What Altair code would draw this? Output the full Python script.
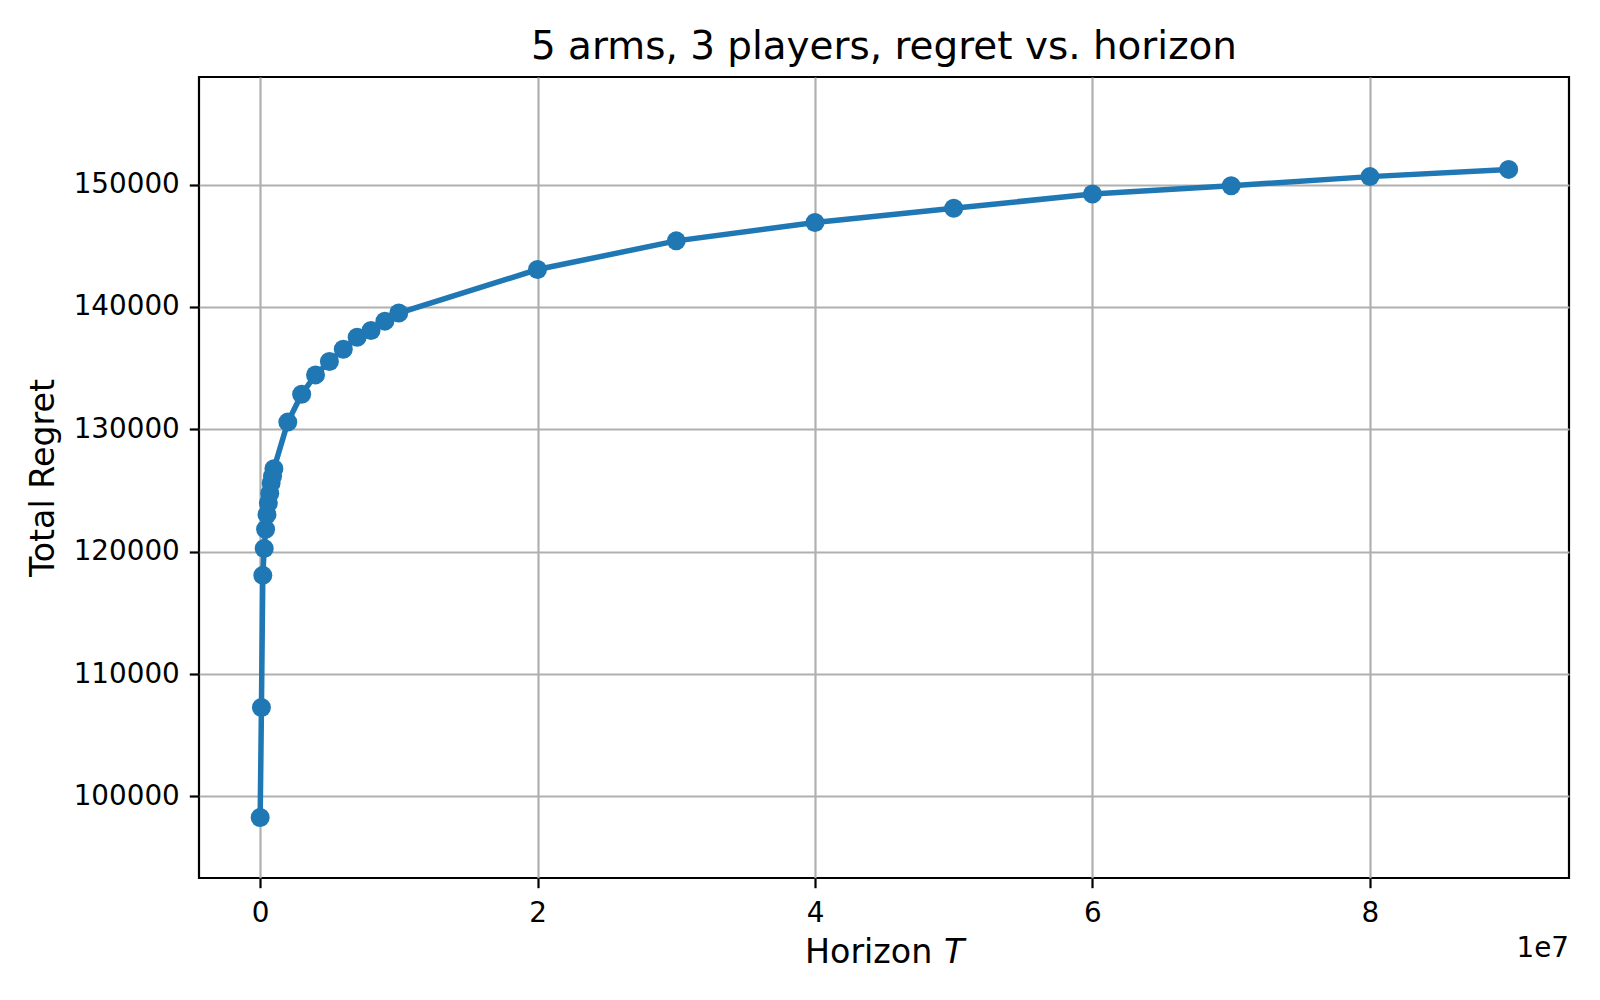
import altair as alt
import pandas as pd

horizon = [1e4, 1e5, 2e5, 3e5, 4e5, 5e5, 6e5, 7e5, 8e5, 9e5, 1e6,
           2e6, 3e6, 4e6, 5e6, 6e6, 7e6, 8e6, 9e6, 1e7,
           2e7, 3e7, 4e7, 5e7, 6e7, 7e7, 8e7, 9e7]
regret = [98280, 107270, 118070, 120260, 121840, 123030, 123980, 124770, 125620, 126170, 126790,
          130590, 132870, 134450, 135550, 136540, 137520, 138080, 138840, 139500,
          143060, 145400, 146900, 148060, 149230, 149900, 150650, 151240]

x_ticks = [0, 2e7, 4e7, 6e7, 8e7]
y_ticks = [100000, 110000, 120000, 130000, 140000, 150000]

df = pd.DataFrame({"T": horizon, "regret": regret})

FONT = "DejaVu Sans"
BLUE = "#1f77b4"
W, H = 1370, 801

xscale = alt.Scale(domain=[-4.40e6, 9.435e7], nice=False, zero=False)
yscale = alt.Scale(domain=[93340, 158790], nice=False, zero=False)

xaxis = alt.Axis(values=x_ticks, labelExpr="format(datum.value / 1e7, 'd')", title=None,
                 grid=True, gridColor="#b0b0b0", gridWidth=2.2, domain=False,
                 tickColor="black", tickWidth=2.2, tickSize=9.7,
                 labelFont=FONT, labelFontSize=27.8, labelColor="black", labelPadding=12)
yaxis = alt.Axis(values=y_ticks, format="d", title="Total Regret",
                 grid=True, gridColor="#b0b0b0", gridWidth=2.2, domain=False,
                 tickColor="black", tickWidth=2.2, tickSize=9.7,
                 labelFont=FONT, labelFontSize=27.8, labelColor="black", labelPadding=10,
                 titleFont=FONT, titleFontSize=33.3, titleFontWeight="normal",
                 titleColor="black", titlePadding=13)

base = alt.Chart(df).encode(
    x=alt.X("T:Q", scale=xscale, axis=xaxis),
    y=alt.Y("regret:Q", scale=yscale, axis=yaxis),
)
line = base.mark_line(color=BLUE, strokeWidth=5.5)
pts = base.mark_point(filled=True, shape="circle", size=361, color=BLUE, opacity=1)

one = pd.DataFrame({"a": [0]})
title = alt.Chart(one).mark_text(text="5 arms, 3 players, regret vs. horizon", font=FONT,
                                 fontSize=38.9, align="center", baseline="alphabetic",
                                 color="black").encode(
    x=alt.value(W / 2), y=alt.value(-18))
lab1 = alt.Chart(one).mark_text(text="Horizon", font=FONT, fontSize=33.3, align="left",
                                baseline="alphabetic", color="black").encode(
    x=alt.value(606), y=alt.value(886))
lab2 = alt.Chart(one).mark_text(text="T", font=FONT, fontSize=33.3, fontStyle="italic",
                                align="left", baseline="alphabetic", color="black").encode(
    x=alt.value(745), y=alt.value(886))
offs = alt.Chart(one).mark_text(text="1e7", font=FONT, fontSize=27.8, align="right",
                                baseline="alphabetic", color="black").encode(
    x=alt.value(W), y=alt.value(880))

chart = alt.layer(line, pts, title, lab1, lab2, offs).properties(
    width=W, height=H,
    background="white",
    autosize=alt.AutoSizeParams(type="none"),
    padding={"left": 191, "top": 69, "right": 23, "bottom": 110},
).configure_view(stroke="black", strokeWidth=2.2)

chart.save("out.html", embed_options={"renderer": "svg", "actions": False})
